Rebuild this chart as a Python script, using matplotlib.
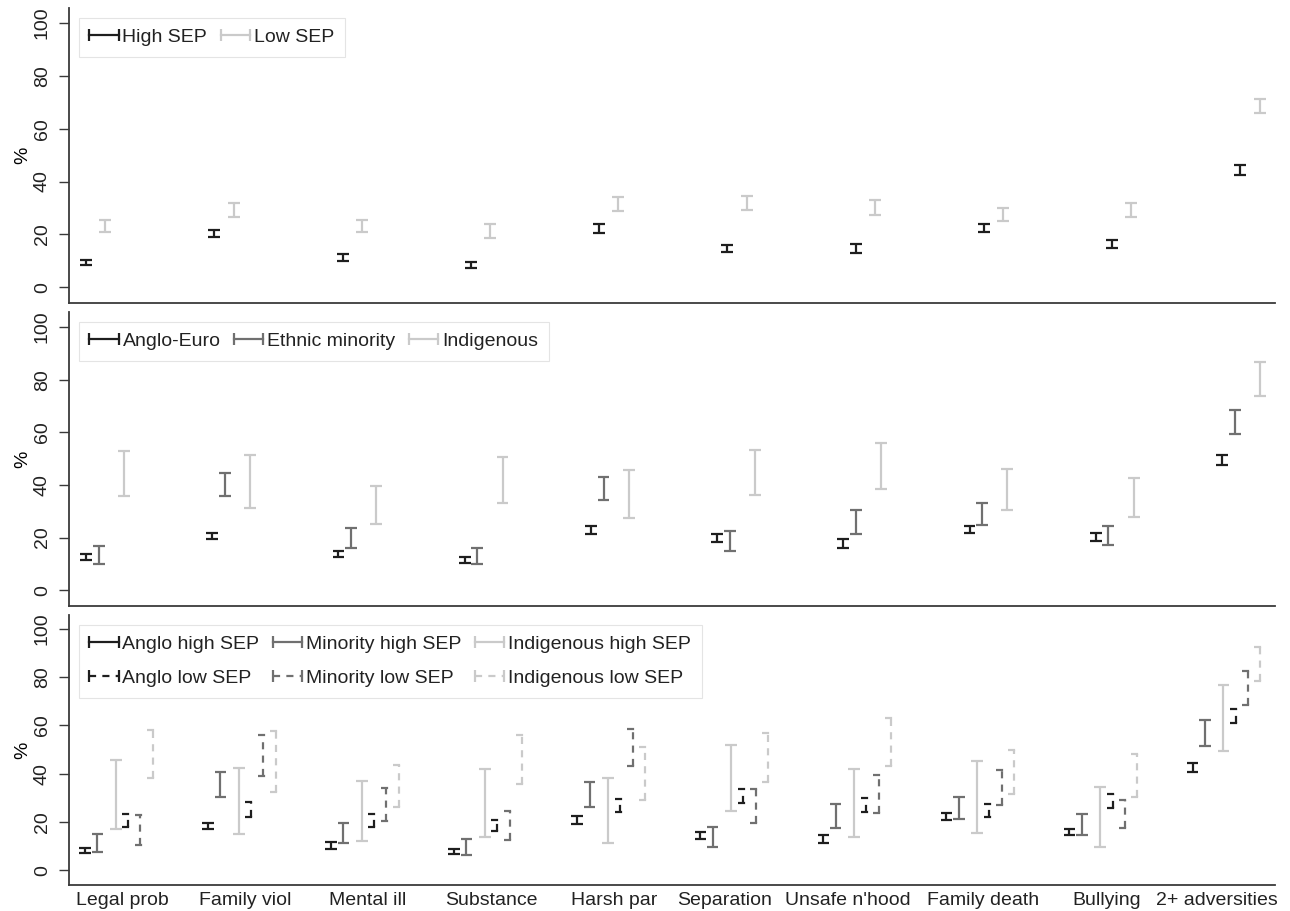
import matplotlib
matplotlib.use("Agg")
import matplotlib.pyplot as plt
from matplotlib.lines import Line2D
from matplotlib.legend_handler import HandlerLine2D

plt.rcParams['font.family'] = ['Liberation Sans', 'DejaVu Sans']
plt.rcParams['font.size'] = 14
plt.rcParams['text.color'] = '#222222'

# -----------------------------
# Data (95% CI bounds, %)
# -----------------------------
categories = ["Legal prob", "Family viol", "Mental ill", "Substance", "Harsh par",
              "Separation", "Unsafe n'hood", "Family death", "Bullying", "2+ adversities"]

# panel 1: by SEP
high_sep_lo = [8.2, 18.9, 9.9, 7.4, 20.6, 13.4, 12.8, 21.0, 14.9, 42.3]
high_sep_hi = [10.2, 21.5, 12.4, 9.6, 23.8, 16.0, 16.2, 23.8, 17.7, 46.2]
low_sep_lo = [21.0, 26.6, 20.8, 18.7, 28.8, 29.4, 27.3, 25.0, 26.6, 66.0]
low_sep_hi = [25.3, 32.0, 25.3, 23.8, 34.2, 34.6, 32.9, 30.1, 32.0, 71.4]

# panel 2: by ethnicity
anglo_lo = [11.4, 19.3, 12.7, 10.4, 21.5, 18.3, 16.1, 21.9, 18.6, 47.7]
anglo_hi = [13.7, 21.9, 14.8, 12.7, 24.3, 21.5, 19.3, 24.4, 21.8, 51.2]
minority_lo = [10.1, 35.7, 16.2, 10.1, 34.1, 14.8, 21.5, 24.9, 17.1, 59.3]
minority_hi = [16.7, 44.5, 23.7, 16.2, 43.0, 22.5, 30.6, 33.3, 24.3, 68.6]
indig_lo = [35.7, 31.2, 25.3, 33.2, 27.5, 36.2, 38.3, 30.6, 27.8, 73.6]
indig_hi = [52.7, 51.2, 39.7, 50.5, 45.7, 53.4, 55.8, 46.1, 42.7, 86.7]

# panel 3: ethnicity x SEP
anglo_high_lo = [7.4, 17.0, 9.0, 7.0, 19.2, 12.9, 11.5, 20.8, 14.6, 40.7]
anglo_high_hi = [9.5, 19.8, 11.6, 9.1, 22.6, 16.1, 14.7, 23.7, 17.0, 44.3]
minority_high_lo = [7.6, 30.6, 11.4, 6.3, 26.4, 9.7, 17.4, 21.3, 14.6, 51.7]
minority_high_hi = [15.0, 40.7, 19.5, 12.9, 36.5, 17.9, 27.6, 30.4, 23.3, 62.2]
indig_high_lo = [17.0, 15.3, 12.2, 13.9, 11.5, 24.7, 13.9, 15.7, 9.7, 49.3]
indig_high_hi = [45.7, 42.5, 36.9, 42.0, 38.3, 51.9, 41.8, 45.2, 34.5, 76.8]
anglo_low_lo = [18.1, 22.2, 17.8, 16.3, 24.0, 28.1, 24.3, 22.2, 25.7, 61.1]
anglo_low_hi = [23.4, 28.2, 23.4, 21.0, 29.5, 33.7, 30.0, 27.5, 31.6, 67.0]
minority_low_lo = [10.4, 38.9, 20.6, 12.8, 43.3, 19.7, 23.9, 27.1, 17.4, 68.5]
minority_low_hi = [23.0, 56.1, 34.1, 24.8, 58.5, 33.7, 39.4, 41.5, 29.0, 82.7]
indig_low_lo = [38.2, 32.4, 26.4, 35.8, 29.2, 36.6, 43.1, 31.6, 30.3, 78.5]
indig_low_hi = [58.0, 57.7, 43.6, 56.1, 51.2, 56.8, 63.0, 49.7, 48.0, 92.5]

# -----------------------------
# Style
# -----------------------------
BLACK = "#1e1e1e"
MID = "#707070"
LIGHT = "#cacaca"
SOLID = "-"
DASH = (0, (3.2, 2.8))
LW = 1.6
CAP = 0.47
SPINE = "#3a3a3a"

W, H = 1290, 911
fig = plt.figure(figsize=(W / 100, H / 100), dpi=100)


def add_axes(top, bottom, left=69, right=1275):
    return fig.add_axes([left / W, 1 - bottom / H, (right - left) / W, (bottom - top) / H])


def draw_ci(ax, offset, lo, hi, color, ls):
    x = [10 * i + offset for i in range(len(lo))]
    ax.vlines(x, lo, hi, colors=color, linestyles=[ls], lw=LW)
    xl = [v - CAP for v in x]
    xr = [v + CAP for v in x]
    ax.hlines(lo, xl, xr, colors=color, linestyles=[ls], lw=LW)
    ax.hlines(hi, xl, xr, colors=color, linestyles=[ls], lw=LW)


def handle(color, ls):
    return Line2D([], [], color=color, ls=ls, lw=LW, marker='|', markersize=9, mew=LW)


def style_axes(ax, xlim):
    ax.set_xlim(*xlim)
    ax.set_ylim(-6, 105.7)
    for s in ['top', 'right']:
        ax.spines[s].set_visible(False)
    for s in ['left', 'bottom']:
        ax.spines[s].set_color(SPINE)
        ax.spines[s].set_linewidth(1.3)
    ax.set_yticks(range(0, 101, 20))
    ax.tick_params(axis='y', length=7, width=1, color=SPINE, pad=6, labelrotation=90,
                   labelcolor='#222222')
    for lbl in ax.get_yticklabels():
        lbl.set_va('center')
    ax.tick_params(axis='x', length=0, labelcolor='#222222')
    ax.set_ylabel('%', labelpad=2)


def add_legend(ax, handles, labels, ncol):
    leg = ax.legend(handles, labels, loc='upper left', ncol=ncol, numpoints=2,
                    handler_map={Line2D: HandlerLine2D(marker_pad=0)},
                    handlelength=1.5, handletextpad=0.2, columnspacing=0.7,
                    labelspacing=0.85, borderpad=0.55, fancybox=False, framealpha=1,
                    edgecolor='#e4e4e4')
    leg.get_frame().set_linewidth(0.8)


# -----------------------------
# Panel 1: SEP
# -----------------------------
ax1 = add_axes(8, 303)
draw_ci(ax1, 0, high_sep_lo, high_sep_hi, BLACK, SOLID)
draw_ci(ax1, 1.5, low_sep_lo, low_sep_hi, LIGHT, SOLID)
style_axes(ax1, (-1.33, 92.7))
ax1.set_xticks([])
add_legend(ax1, [handle(BLACK, SOLID), handle(LIGHT, SOLID)], ["High SEP", "Low SEP"], 2)

# -----------------------------
# Panel 2: ethnicity
# -----------------------------
ax2 = add_axes(312, 606)
draw_ci(ax2, 0, anglo_lo, anglo_hi, BLACK, SOLID)
draw_ci(ax2, 1, minority_lo, minority_hi, MID, SOLID)
draw_ci(ax2, 3, indig_lo, indig_hi, LIGHT, SOLID)
style_axes(ax2, (-1.35, 94.2))
ax2.set_xticks([])
add_legend(ax2, [handle(BLACK, SOLID), handle(MID, SOLID), handle(LIGHT, SOLID)],
           ["Anglo-Euro", "Ethnic minority", "Indigenous"], 3)

# -----------------------------
# Panel 3: ethnicity x SEP
# -----------------------------
ax3 = add_axes(615, 885)
draw_ci(ax3, 0, anglo_high_lo, anglo_high_hi, BLACK, SOLID)
draw_ci(ax3, 1, minority_high_lo, minority_high_hi, MID, SOLID)
draw_ci(ax3, 2.5, indig_high_lo, indig_high_hi, LIGHT, SOLID)
draw_ci(ax3, 3.5, anglo_low_lo, anglo_low_hi, BLACK, DASH)
draw_ci(ax3, 4.5, minority_low_lo, minority_low_hi, MID, DASH)
draw_ci(ax3, 5.5, indig_low_lo, indig_low_hi, LIGHT, DASH)
style_axes(ax3, (-1.3, 96.7))
label_shift = [3, 3, 3, 3, 3, 2, 2, 3, 3, 2]
ax3.set_xticks([10 * i + s for i, s in enumerate(label_shift)])
ax3.set_xticklabels(categories)
ax3.tick_params(axis='x', pad=5)
add_legend(ax3,
           [handle(BLACK, SOLID), handle(BLACK, DASH), handle(MID, SOLID),
            handle(MID, DASH), handle(LIGHT, SOLID), handle(LIGHT, DASH)],
           ["Anglo high SEP", "Anglo low SEP", "Minority high SEP",
            "Minority low SEP", "Indigenous high SEP", "Indigenous low SEP"], 3)

fig.savefig("out.png", dpi=100)
